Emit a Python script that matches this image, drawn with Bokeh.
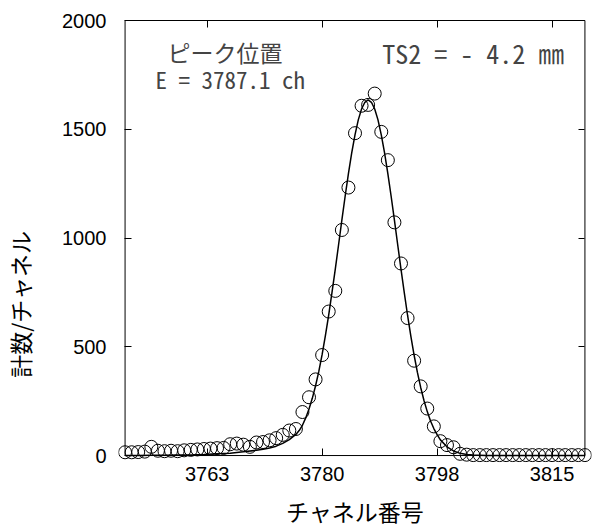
from bokeh.plotting import figure
from bokeh.models import Range1d, LinearAxis, FixedTicker, Label
from bokeh.embed import file_html
from bokeh.resources import INLINE

# measured spectrum (one point per channel)
channels = list(range(3750, 3821))
counts = [15, 15, 16, 18, 40, 22, 20, 22, 20, 24,
          26, 28, 30, 32, 34, 35, 52, 55, 50, 40,
          60, 62, 70, 80, 95, 115, 122, 200, 268, 350,
          462, 662, 757, 1037, 1232, 1482, 1608, 1612, 1664, 1488,
          1358, 1072, 883, 632, 436, 318, 216, 134, 66, 48,
          38, 8, 4, 2, 2, 2, 2, 2, 2, 2,
          2, 2, 2, 2, 2, 2, 2, 2, 2, 2, 2]

# fitted curve
fit_channels = [3750, 3752, 3754, 3756, 3758, 3760, 3762, 3764, 3766, 3768,
                3770, 3771, 3772, 3773, 3774, 3775, 3776, 3776.5, 3777, 3777.5,
                3778, 3778.5, 3779, 3779.5, 3780, 3780.5, 3781, 3781.5, 3782, 3782.5,
                3783, 3783.5, 3784, 3784.5, 3785, 3785.5, 3786, 3786.5, 3787, 3787.5,
                3788, 3788.5, 3789, 3789.5, 3790, 3790.5, 3791, 3791.5, 3792, 3792.5,
                3793, 3793.5, 3794, 3794.5, 3795, 3795.5, 3796, 3796.5, 3797, 3797.5,
                3798, 3799, 3800, 3801, 3802, 3803, 3805, 3810, 3815, 3820]
fit_counts = [0, 0, 1, 1, 2, 3, 5, 8, 11, 17,
              24, 29, 35, 43, 56, 73, 97, 115, 139, 173,
              214, 263, 321, 388, 465, 552, 647, 750, 857, 969,
              1082, 1192, 1296, 1391, 1474, 1543, 1593, 1624, 1635, 1624,
              1593, 1543, 1474, 1391, 1296, 1192, 1082, 969, 857, 749,
              645, 549, 461, 382, 313, 253, 202, 159, 124, 96,
              72, 40, 21, 10, 5, 2, 0, 0, 0, 0]

x_ticks = [3762.5, 3780, 3797.5, 3815]
x_tick_labels = ["3763", "3780", "3798", "3815"]
y_ticks = [0, 500, 1000, 1500, 2000]
x_min, x_max = 3750, 3820
y_min, y_max = 0, 2000

x_title = "チャネル番号"
y_title = "計数/チャネル"
peak_title = "ピーク位置"
peak_text = "E = 3787.1 ch"
ts_text = "TS2 = - 4.2 ㎜"

MONO = "'Noto Sans Mono CJK JP', 'DejaVu Sans Mono', monospace"
CJK = "Noto Sans CJK JP"
LAT = "Liberation Sans"

p = figure(frame_width=473, frame_height=443,
           x_range=Range1d(3749, 3821), y_range=Range1d(-32, 2004.6),
           output_backend="svg", toolbar_location=None,
           min_border_left=118, min_border_top=19, min_border_right=2,
           min_border_bottom=60, outline_line_color=None,
           background_fill_color="white", border_fill_color="white")
p.grid.grid_line_color = None

xa = p.xaxis[0]
xa.ticker = FixedTicker(ticks=x_ticks)
xa.major_label_overrides = dict(zip(x_ticks, x_tick_labels))
xa.axis_line_color = None
xa.major_tick_in = 14
xa.major_tick_out = -7
xa.minor_tick_line_color = None
xa.major_label_standoff = 4
xa.major_label_text_font = LAT
xa.major_label_text_font_size = "20px"
xa.major_label_text_color = "black"
xa.axis_label = x_title
xa.axis_label_text_font = CJK
xa.axis_label_text_font_size = "23px"
xa.axis_label_text_font_style = "normal"
xa.axis_label_text_color = "black"
xa.axis_label_standoff = 10

ya = p.yaxis[0]
ya.ticker = FixedTicker(ticks=y_ticks)
ya.axis_line_color = None
ya.major_tick_in = 13
ya.major_tick_out = -6
ya.minor_tick_line_color = None
ya.major_label_standoff = 12
ya.major_label_text_font = LAT
ya.major_label_text_font_size = "20px"
ya.major_label_text_color = "black"
ya.axis_label = y_title + "\u3000" * 5 + "\u2002"
ya.axis_label_text_font = CJK
ya.axis_label_text_font_size = "23px"
ya.axis_label_text_font_style = "normal"
ya.axis_label_text_color = "black"
ya.axis_label_standoff = 22

top = LinearAxis(ticker=FixedTicker(ticks=x_ticks), axis_line_color=None,
                 major_tick_in=8, major_tick_out=-1, minor_tick_line_color=None,
                 major_label_overrides={t: "" for t in x_ticks},
                 major_label_standoff=0)
p.add_layout(top, "above")
right = LinearAxis(ticker=FixedTicker(ticks=y_ticks), axis_line_color=None,
                   major_tick_in=13, major_tick_out=-7, minor_tick_line_color=None,
                   major_label_overrides={t: "" for t in y_ticks},
                   major_label_standoff=0)
p.add_layout(right, "right")

# plot box
p.quad(left=[x_min], right=[x_max], bottom=[y_min], top=[y_max],
       fill_color=None, line_color="black", line_width=1)

p.line(fit_channels, fit_counts, line_color="black", line_width=1.5)
p.scatter(channels, counts, marker="circle", size=13, fill_color=None,
          line_color="black", line_width=1)

p.add_layout(Label(x=3765.2, y=1857, text=peak_title, text_align="center",
                   text_baseline="middle", text_font=CJK, text_font_size="23px"))
p.add_layout(Label(x=3766.0, y=1733, text=peak_text, text_align="center",
                   text_baseline="middle", text_font=MONO, text_font_size="23px"))
p.add_layout(Label(x=3803.0, y=1853, text=ts_text, text_align="center",
                   text_baseline="middle", text_font=MONO, text_font_size="26px"))

open("out.html", "w").write(file_html(p, INLINE))
